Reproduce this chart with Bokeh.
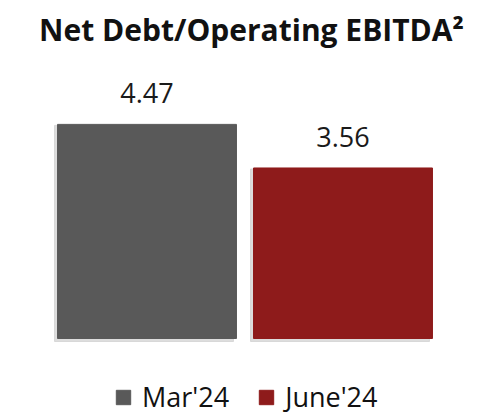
from bokeh.plotting import figure
from bokeh.models import Range1d, Label, Legend, LegendItem, ColumnDataSource
from bokeh.embed import file_html
from bokeh.resources import INLINE
from bokeh.core.properties import value

title_text = "Net Debt/Operating EBITDA²"
periods = ["Mar'24", "June'24"]
ratios = [4.47, 3.56]
colors = ["#595959", "#8E1B1B"]
positions = [0, 1]

W, H = 480, 418
PXX = 196.0
PXY = 47.9
x0 = -146.5 / PXX
base_px = 80.0

p = figure(width=W, height=H, output_backend="svg", toolbar_location=None,
           x_range=Range1d(x0, x0 + W / PXX),
           y_range=Range1d(-base_px / PXY, (H - base_px) / PXY),
           min_border=0, x_axis_location=None, y_axis_location=None)
p.grid.visible = False
p.outline_line_color = None

src = ColumnDataSource(dict(x=positions, top=ratios, color=colors, label=periods,
                            txt=[f"{v:.2f}" for v in ratios]))

# soft shadow
p.vbar(x=[v - 3 / PXX for v in positions], top=[v - 1 / PXY for v in ratios],
       bottom=-3 / PXY, width=0.913, color="#cfcfcf", alpha=0.7)

bars = p.vbar(x="x", top="top", bottom=0, width=0.913, color="color", source=src)

p.text(x="x", y="top", text="txt", source=src, text_align="center",
       text_baseline="alphabetic", y_offset=-31, text_font=value("Open Sans"),
       text_font_size="27px", text_color="#1a1a1a")

p.add_layout(Label(x=251, y=389, x_units="screen", y_units="screen", text=title_text,
                   text_align="center", text_baseline="alphabetic",
                   text_font="Open Sans", text_font_style="bold", text_font_size="30px",
                   text_color="#111111"))

legend = Legend(items=[LegendItem(label=periods[i], renderers=[bars], index=i) for i in range(2)],
                orientation="horizontal", location=(114, 3),
                glyph_width=18, glyph_height=18, label_standoff=10, spacing=28,
                padding=0, margin=0, border_line_color=None, background_fill_alpha=0,
                label_text_font="Open Sans", label_text_font_size="27px", label_text_color="#111111")
p.add_layout(legend)

open("out.html", "w").write(file_html(p, INLINE))
